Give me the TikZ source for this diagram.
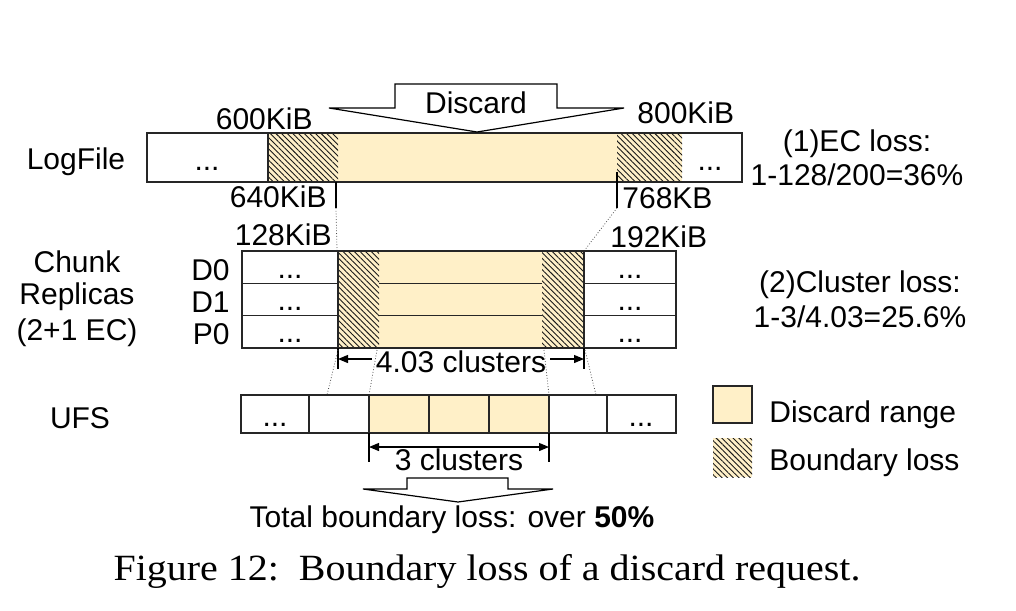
\documentclass[tikz,border=0pt]{standalone}
\usepackage{fontspec}
\setmainfont{Liberation Sans}
\newfontfamily\capfont{Liberation Serif}
\usetikzlibrary{patterns.meta,arrows.meta}
\definecolor{discardyellow}{RGB}{255,240,200}

\begin{document}
\begin{tikzpicture}[x=0.5pt,y=-0.5pt,
  font=\fontsize{15}{18}\selectfont,
  box/.style={draw=black!85,line width=0.6pt},
  yfill/.style={fill=discardyellow},
  hatchfill/.style={preaction={fill=discardyellow},pattern={Lines[angle=-45,distance=2pt,line width=0.45pt]},pattern color=black!90},
  tick/.style={line width=1pt},
  maptrace/.style={densely dotted,line width=0.4pt,black!70},
  dimarrow/.style={line width=0.6pt},
  bigarrow/.style={draw=black,line width=0.6pt,fill=white,line join=miter},
  lbl/.style={inner sep=0pt}]
\useasboundingbox (0,0) rectangle (1016,610);

% LogFile
\fill[yfill] (338,133) rectangle (617,182);
\fill[hatchfill] (268,133) rectangle (338,182);
\fill[hatchfill] (617,133) rectangle (682,182);
\draw[box] (147,133) rectangle (742,182);
\draw[box] (268,133) -- (268,182);
\node[lbl,anchor=base] (logdotsl) at (207,170) {...};
\node[lbl,anchor=base] (logdotsr) at (710,170) {...};
\node[lbl] (logfile) at (76,162) {LogFile};

% discard request
\draw[bigarrow] (329,108) -- (395,108) -- (395,84) -- (557,84) -- (557,108) -- (624,108) -- (477,132) -- cycle;
\node[lbl,anchor=base] (discard) at (476,113) {Discard};

\node[lbl,anchor=base east] (off600) at (313,129) {600KiB};
\node[lbl,anchor=base west] (off800) at (637,123) {800KiB};
\node[lbl,anchor=base east] (off640) at (327,207) {640KiB};
\node[lbl,anchor=base west] (off768) at (622,208) {768KB};
\node[lbl,anchor=base east] (off128) at (332,245) {128KiB};
\node[lbl,anchor=base west] (off192) at (610,247) {192KiB};

\coordinate (t640a) at (336,182);
\coordinate (t640b) at (336,208);
\coordinate (t768a) at (617,172);
\coordinate (t768b) at (617,208);
\coordinate (c128) at (337,251);
\coordinate (c192) at (584,251);
\draw[tick] (t640a) -- (t640b);
\draw[tick] (t768a) -- (t768b);
\draw[maptrace] (t640b) -- (c128);
\draw[maptrace] (t768b) -- (c192);

% chunk replicas
\node[lbl] (chunk) at (77,262) {Chunk};
\node[lbl] (replicas) at (77,297) {Replicas};
\node[lbl] (ecnote) at (77,333) {(2+1 EC)};
\foreach \r/\name in {0/D0,1/D1,2/P0} {
  \draw[box] (242,251+32.33*\r) rectangle (338,283.33+32.33*\r);
  \draw[box] (584,251+32.33*\r) rectangle (676,283.33+32.33*\r);
  \node[lbl,anchor=base east] (row\name) at (230,280+32*\r) {\name};
  \node[lbl,anchor=base] (dotsl\name) at (290,278+32.33*\r) {...};
  \node[lbl,anchor=base] (dotsr\name) at (630,278+32.33*\r) {...};
}
\fill[yfill] (379,251) rectangle (542,348);
\fill[hatchfill] (338,251) rectangle (379,348);
\fill[hatchfill] (542,251) rectangle (584,348);
\draw[box] (338,251) -- (584,251) (338,348) -- (584,348);
\draw[box] (338,251) -- (338,348) (584,251) -- (584,348);
\draw[box] (379,283.33) -- (542,283.33) (379,315.67) -- (542,315.67);

% 4.03 clusters
\coordinate (k403l) at (338,359);
\coordinate (k403r) at (584,359);
\draw[tick] (338,348) -- (338,369);
\draw[tick] (584,348) -- (584,369);
\node[lbl,anchor=base,inner xsep=2pt] (c403) at (461,372) {4.03 clusters};
\draw[dimarrow,-{Triangle[length=5pt,width=4pt]}] (c403.west |- k403l) -- (k403l);
\draw[dimarrow,-{Triangle[length=5pt,width=4pt]}] (c403.east |- k403r) -- (k403r);

% mapping to clusters
\coordinate (ma1) at (338,350); \coordinate (mb1) at (327,395);
\coordinate (ma2) at (377,350); \coordinate (mb2) at (369,395);
\coordinate (ma3) at (544,350); \coordinate (mb3) at (549,395);
\coordinate (ma4) at (585,350); \coordinate (mb4) at (596,395);
\foreach \i in {1,...,4}
  \draw[maptrace] (ma\i) -- (mb\i);

% UFS
\node[lbl] (ufs) at (80,418) {UFS};
\fill[yfill] (369,395) rectangle (549,433);
\foreach \xa/\xb in {241/309,309/369,369/429,429/489,489/549,549/607,607/676}
  \draw[box] (\xa,395) rectangle (\xb,433);
\node[lbl,anchor=base] (ufsdotsl) at (275,426) {...};
\node[lbl,anchor=base] (ufsdotsr) at (641,426) {...};

% 3 clusters
\coordinate (k3l) at (369,447);
\coordinate (k3r) at (549,447);
\draw[tick] (369,433) -- (369,462);
\draw[tick] (549,433) -- (549,462);
\draw[dimarrow,{Triangle[length=5pt,width=4pt]}-{Triangle[length=5pt,width=4pt]}] (k3l) -- (k3r);
\node[lbl,anchor=base] (c3) at (459,470) {3 clusters};

% total
\draw[bigarrow] (363,489) -- (407,489) -- (407,478) -- (508,478) -- (508,489) -- (553,489) -- (458,502) -- cycle;
\node[lbl,anchor=base] (total) at (452,527) {Total boundary loss: over \textbf{50\%}};

% losses
\node[lbl,anchor=base] (ecloss) at (857,151) {(1)EC loss:};
\node[lbl,anchor=base] (ecval) at (857,185) {1-128/200=36\%};
\node[lbl,anchor=base] (clloss) at (860,292) {(2)Cluster loss:};
\node[lbl,anchor=base] (clval) at (860,327) {1-3/4.03=25.6\%};

% legend
\draw[box,yfill] (713,386) rectangle (752,423);
\fill[hatchfill] (713,438) rectangle (752,477);
\node[lbl,anchor=base west] (legdiscard) at (769,422) {Discard range};
\node[lbl,anchor=base west] (legboundary) at (769,470) {Boundary loss};

% caption
\node[lbl,anchor=base,font=\capfont\fontsize{18.5}{21}\selectfont] (caption) at (487,580) {\scalebox{1.08}[1]{Figure 12:\ \ Boundary loss of a discard request.}};
\end{tikzpicture}
\end{document}
